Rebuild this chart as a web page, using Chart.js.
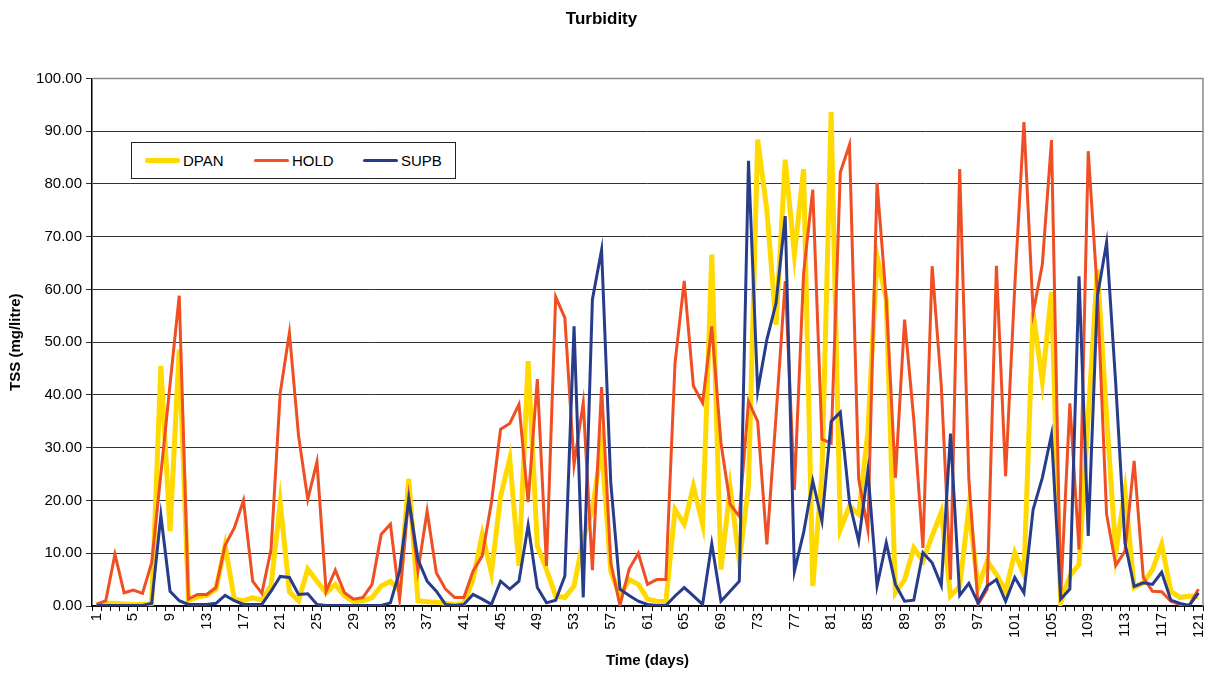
<!DOCTYPE html>
<html>
<head>
<meta charset="utf-8">
<title>Turbidity</title>
<script src="https://cdn.jsdelivr.net/npm/chart.js@4"></script>
<style>
    body { margin: 0; background: #fff; }
    #wrap { position: relative; width: 1210px; height: 675px; }
    #legend {
        position: absolute; left: 131px; top: 142px; width: 323px; height: 35px;
        border: 1px solid #222; background: #fff;
        font-family: 'Liberation Sans', Arial, sans-serif; font-size: 15px; color: #000;
    }
    #legend .item { position: absolute; top: 0; height: 35px; line-height: 35px; }
    #legend .swatch { position: absolute; top: 16px; width: 35px; border-radius: 2px; }
    #legend .text { position: absolute; left: 38px; white-space: nowrap; }
</style>
</head>
<body>
<div id="wrap">
    <canvas id="chart" width="1210" height="675"></canvas>
    <div id="legend"></div>
</div>
<script>
// days 1..121
const days = Array.from({ length: 121 }, (v, i) => String(i + 1));

const dpan = [
    0.3, 0.5, 0.5, 0.4, 0.3, 0.3, 0.5, 45.5, 14.2, 48.6,
    1.0, 1.7, 2.0, 3.2, 11.4, 1.3, 1.0, 1.6, 1.1, 3.8,
    19.6, 2.7, 1.0, 7.0, 4.7, 2.5, 4.1, 1.9, 0.8, 1.0,
    1.6, 3.8, 4.7, 3.0, 24.1, 1.0, 0.8, 0.7, 0.5, 0.3,
    0.5, 5.0, 13.6, 6.3, 20.8, 27.9, 7.6, 46.4, 11.4, 6.9,
    1.9, 1.6, 3.8, 12.6, 18.3, 30.3, 6.6, 1.9, 5.0, 4.1,
    1.3, 0.9, 0.8, 18.3, 15.5, 22.7, 15.5, 66.6, 6.9, 22.4,
    8.5, 22.7, 88.4, 75.0, 53.3, 84.6, 66.6, 82.8, 3.8, 25.0,
    93.6, 14.5, 18.9, 17.4, 33.0, 66.3, 58.1, 2.5, 5.0, 11.0,
    8.5, 13.3, 17.8, 1.9, 3.7, 18.6, 3.5, 8.5, 6.0, 2.8,
    10.1, 6.0, 55.6, 42.6, 59.5, 0.6, 5.7, 7.9, 36.0, 63.8,
    36.0, 10.1, 21.8, 3.5, 4.4, 6.9, 11.7, 2.8, 1.6, 1.9,
    1.8
];

const hold = [
    0.3, 1.0, 9.8, 2.5, 3.0, 2.4, 8.2, 25.0, 42.0, 58.8,
    1.3, 2.2, 2.2, 3.5, 11.5, 14.8, 20.0, 4.7, 2.4, 10.7,
    40.4, 51.8, 32.2, 20.2, 27.3, 2.8, 6.8, 2.5, 1.3, 1.6,
    4.1, 13.6, 15.5, 1.3, 20.6, 6.6, 18.0, 6.3, 3.2, 1.6,
    1.6, 6.6, 9.5, 19.6, 33.5, 34.6, 38.2, 19.7, 43.0, 7.6,
    58.6, 54.6, 26.8, 38.5, 6.8, 41.5, 8.2, 0.1, 7.0, 10.0,
    4.1, 5.0, 5.0, 46.1, 61.6, 41.7, 38.5, 53.0, 30.9, 19.3,
    17.0, 38.8, 35.0, 11.7, 36.0, 61.6, 22.0, 63.1, 78.9, 31.6,
    30.9, 82.2, 87.4, 24.0, 14.5, 80.2, 58.1, 24.3, 54.3, 35.4,
    11.0, 64.4, 41.7, 5.0, 82.8, 24.0, 0.3, 3.2, 64.5, 24.6,
    60.6, 91.7, 55.6, 64.7, 88.3, 1.9, 38.4, 10.7, 86.2, 59.3,
    17.4, 7.7, 10.4, 27.5, 5.4, 2.8, 2.7, 0.9, 0.3, 0.1,
    3.2
];

const supb = [
    0.1, 0.1, 0.1, 0.1, 0.1, 0.1, 0.5, 17.2, 2.8, 1.0,
    0.3, 0.3, 0.3, 0.5, 2.0, 1.0, 0.3, 0.3, 0.3, 2.8,
    5.6, 5.4, 2.2, 2.3, 0.3, 0.1, 0.1, 0.1, 0.1, 0.1,
    0.1, 0.1, 0.6, 6.6, 20.2, 8.8, 4.7, 2.8, 0.3, 0.1,
    0.3, 2.2, 1.3, 0.3, 4.7, 3.2, 4.7, 15.3, 3.5, 0.6,
    1.1, 5.7, 53.0, 1.6, 58.1, 67.5, 23.4, 3.2, 2.0, 0.9,
    0.3, 0.1, 0.1, 1.9, 3.5, 1.9, 0.3, 11.8, 0.9, 2.8,
    4.7, 84.4, 40.7, 50.5, 57.4, 73.9, 6.6, 13.9, 23.7, 16.1,
    35.0, 36.7, 19.6, 12.3, 25.6, 3.8, 12.0, 4.1, 0.9, 1.1,
    10.1, 8.2, 3.9, 32.7, 2.0, 4.3, 0.6, 3.8, 5.0, 0.9,
    5.4, 2.5, 18.3, 24.3, 32.5, 1.3, 3.2, 62.5, 13.3, 58.7,
    68.9, 42.0, 12.0, 3.7, 4.4, 4.1, 6.4, 1.1, 0.5, 0.1,
    2.5
];

const series = [
    { label: 'DPAN', data: dpan, color: '#FFD900', width: 5, order: 3 },
    { label: 'HOLD', data: hold, color: '#F04E23', width: 3, order: 2 },
    { label: 'SUPB', data: supb, color: '#283C8C', width: 3, order: 1 }
];

const FONT = "'Liberation Sans', Arial, sans-serif";

// grey frame on top and right of the plot area
const plotFrame = {
    id: 'plotFrame',
    beforeDatasetsDraw(chart) {
        const { ctx, chartArea: a } = chart;
        ctx.save();
        ctx.strokeStyle = '#8a8a8a';
        ctx.lineWidth = 1.5;
        ctx.beginPath();
        ctx.moveTo(a.left, a.top);
        ctx.lineTo(a.right, a.top);
        ctx.lineTo(a.right, a.bottom);
        ctx.stroke();
        ctx.restore();
    }
};

function linechart() {
    new Chart(document.getElementById('chart'), {
        type: 'line',
        data: {
            labels: days,
            datasets: series.map(s => ({
                label: s.label,
                data: s.data,
                borderColor: s.color,
                backgroundColor: s.color,
                borderWidth: s.width,
                order: s.order,
                fill: false,
                tension: 0,
                pointRadius: 0,
                pointHoverRadius: 0
            }))
        },
        options: {
            responsive: false,
            animation: false,
            devicePixelRatio: 1,
            layout: { padding: { left: 0, right: 7, top: 0, bottom: 0 } },
            scales: {
                x: {
                    offset: true,
                    grid: {
                        drawOnChartArea: false,
                        drawTicks: true,
                        tickLength: 5,
                        color: '#000',
                        offset: true
                    },
                    border: { color: '#000', width: 1.5 },
                    ticks: {
                        autoSkip: false,
                        minRotation: 90,
                        maxRotation: 90,
                        padding: 2,
                        color: '#000',
                        font: { family: FONT, size: 15 },
                        callback: (v, i) => i % 4 === 0 ? days[i] : ''
                    },
                    title: {
                        display: true,
                        text: 'Time (days)',
                        color: '#000',
                        font: { family: FONT, size: 15, weight: 'bold' },
                        padding: { top: 5, bottom: 5 }
                    },
                    afterFit: scale => {
                        scale.height = 69;
                        scale.paddingLeft = 0;
                        scale.paddingRight = 0;
                    }
                },
                y: {
                    min: 0,
                    max: 100,
                    grid: {
                        color: '#333',
                        lineWidth: 1,
                        tickLength: 6
                    },
                    border: { color: '#000', width: 1.5 },
                    ticks: {
                        stepSize: 10,
                        padding: 4,
                        color: '#000',
                        font: { family: FONT, size: 15 },
                        callback: v => v.toFixed(2)
                    },
                    title: {
                        display: true,
                        text: 'TSS (mg/litre)',
                        color: '#000',
                        font: { family: FONT, size: 15, weight: 'bold' },
                        padding: 7
                    },
                    afterFit: scale => { scale.width = 92; }
                }
            },
            plugins: {
                legend: { display: false },
                tooltip: { enabled: false },
                title: {
                    display: true,
                    text: 'Turbidity',
                    color: '#000',
                    font: { family: FONT, size: 17, weight: 'bold' },
                    padding: { top: 9, bottom: 49 }
                }
            }
        },
        plugins: [plotFrame]
    });
}

// boxed legend, one swatch per series
function buildLegend() {
    const box = document.getElementById('legend');
    const lefts = [13, 122, 231];
    series.forEach((s, i) => {
        const item = document.createElement('div');
        item.className = 'item';
        item.style.left = lefts[i] + 'px';
        const sw = document.createElement('div');
        sw.className = 'swatch';
        sw.style.background = s.color;
        sw.style.height = s.width + 'px';
        sw.style.top = (17 - s.width / 2) + 'px';
        const tx = document.createElement('span');
        tx.className = 'text';
        tx.textContent = s.label;
        item.appendChild(sw);
        item.appendChild(tx);
        box.appendChild(item);
    });
}

buildLegend();
linechart();
</script>
</body>
</html>
